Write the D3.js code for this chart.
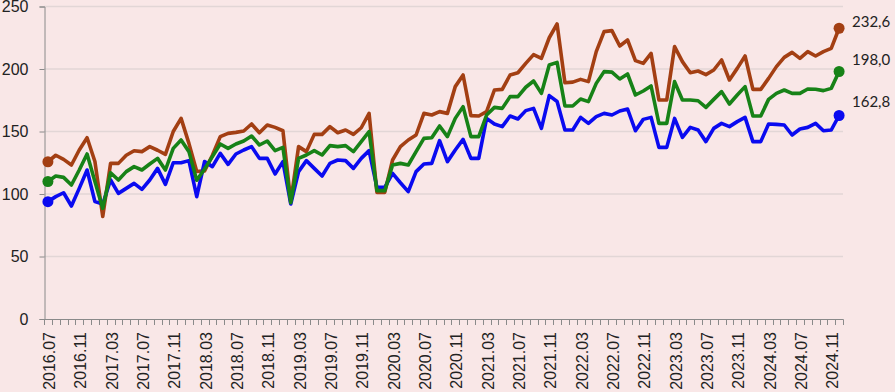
<!DOCTYPE html>
<html>
<head>
<meta charset="utf-8">
<script src="https://cdn.jsdelivr.net/npm/d3@7"></script>
<style>
body { margin: 0; background: #f9e7e7; }
svg { display: block; }
</style>
</head>
<body>
<svg id="chart"></svg>
<script>
// months, 2016.07 .. 2024.12
var months = [
    "2016.07","2016.08","2016.09","2016.10","2016.11","2016.12",
    "2017.01","2017.02","2017.03","2017.04","2017.05","2017.06","2017.07","2017.08","2017.09","2017.10","2017.11","2017.12",
    "2018.01","2018.02","2018.03","2018.04","2018.05","2018.06","2018.07","2018.08","2018.09","2018.10","2018.11","2018.12",
    "2019.01","2019.02","2019.03","2019.04","2019.05","2019.06","2019.07","2019.08","2019.09","2019.10","2019.11","2019.12",
    "2020.01","2020.02","2020.03","2020.04","2020.05","2020.06","2020.07","2020.08","2020.09","2020.10","2020.11","2020.12",
    "2021.01","2021.02","2021.03","2021.04","2021.05","2021.06","2021.07","2021.08","2021.09","2021.10","2021.11","2021.12",
    "2022.01","2022.02","2022.03","2022.04","2022.05","2022.06","2022.07","2022.08","2022.09","2022.10","2022.11","2022.12",
    "2023.01","2023.02","2023.03","2023.04","2023.05","2023.06","2023.07","2023.08","2023.09","2023.10","2023.11","2023.12",
    "2024.01","2024.02","2024.03","2024.04","2024.05","2024.06","2024.07","2024.08","2024.09","2024.10","2024.11","2024.12"
];
var tickLabels = ["2016.07","2016.11","2017.03","2017.07","2017.11","2018.03","2018.07","2018.11",
    "2019.03","2019.07","2019.11","2020.03","2020.07","2020.11","2021.03","2021.07","2021.11",
    "2022.03","2022.07","2022.11","2023.03","2023.07","2023.11","2024.03","2024.07","2024.11"];
var yTicks = [0, 50, 100, 150, 200, 250];

var brown = [
    125.8, 131, 127.7, 123.2, 135.2, 145, 126, 82, 124.5, 124.5,
    131, 134.6, 133.9, 137.9, 135, 131.7, 150, 160.5, 140.5, 118,
    118.5, 131, 145.9, 148.5, 149.3, 150.4, 156, 149, 155.2, 153.3,
    150.6, 94, 137.9, 133.9, 147.7, 147.7, 153.9, 149, 151.2, 147.7,
    153, 164.5, 101.3, 101.3, 127.2, 137.9, 143.2, 147.2, 164.5, 163.2,
    165.9, 164.5, 185.9, 195.2, 162.7, 162.4, 165.9, 183.2, 183.7, 195.2,
    197, 204.5, 211.5, 208.5, 225, 236, 189, 189.5, 191.7, 189.9,
    213.9, 229.9, 230.7, 218.4, 223.2, 206.7, 204.5, 212.5, 175.2, 175.2,
    217.9, 205.9, 197, 198.4, 195.5, 199.2, 207.2, 191.2, 200.5, 210.4,
    183.7, 183.7, 192.5, 201.9, 209.3, 213.3, 208.5, 213.9, 210.4, 213.9,
    216.5, 232.6
];
var green = [
    110, 114.4, 113.3, 107.2, 119.2, 132, 109.9, 88.5, 117, 111.2,
    117.9, 121.9, 119.2, 124, 128.5, 119.2, 136.5, 143.2, 133.9, 111,
    120, 129.9, 140, 136.5, 140, 142.4, 146.4, 139.2, 142.4, 134.7,
    137.3, 93, 128.5, 131.2, 134.7, 131.2, 138.7, 137.9, 138.7, 133.9,
    141.9, 149.9, 102.7, 102.7, 123.2, 124.5, 123.2, 133.9, 144.5, 145,
    154.4, 145.9, 160.5, 169.9, 145.9, 145.9, 163.2, 169.3, 168.5, 177.9,
    177.9, 185.4, 190.4, 180.5, 203.2, 205.3, 170.4, 170.4, 176, 173.9,
    188.5, 197.9, 197.5, 192, 196, 179.2, 182.4, 186.4, 156.5, 156.5,
    189.9, 175.2, 175.2, 174.6, 169.3, 175.7, 181.9, 172, 179.2, 185.9,
    162.4, 162.4, 175.7, 180.5, 183.2, 180.5, 180.5, 184, 183.8, 182.7,
    184.5, 198.0
];
var blue = [
    93.9, 97.9, 101, 90.4, 104.5, 119.2, 93.9, 92, 111.2, 100.5,
    104.5, 108.5, 103.7, 111.2, 120.5, 107.7, 125, 125, 126.7, 97.9,
    126, 121.9, 132.5, 123.7, 132, 135.2, 137.9, 128.5, 128.5, 116,
    125.9, 92, 117.9, 126.7, 120.5, 114.4, 124.5, 127.2, 126.7, 120.5,
    128.5, 134.7, 105.3, 105.3, 116.5, 109, 101.9, 117.9, 124, 124.5,
    142.7, 125.9, 135.2, 143.7, 128.5, 128.5, 160.5, 156, 153.9, 162.4,
    160, 166.7, 168.5, 152.5, 178.7, 174, 151.2, 151.2, 161.3, 156.5,
    161.9, 164.5, 163.2, 166.4, 168, 150.6, 159.7, 161.3, 137.3, 137.3,
    160.5, 145.3, 153.3, 151.2, 141.9, 152.5, 156.5, 153.9, 157.9, 161.3,
    141.9, 141.9, 156, 155.7, 155.2, 147.2, 152, 153.3, 156.5, 150.6,
    151.2, 162.8
];

var width = 895, height = 392;
var svg = d3.select("#chart").attr("width", width).attr("height", height);

svg.append("rect").attr("width", width).attr("height", height).attr("fill", "#f9e7e7");

var x = d3.scaleBand().domain(months).range([44, 843]).padding(0);
var y = d3.scaleLinear().domain([0, 250]).range([319, 6.5]);
var cx = function (m) { return x(m) + x.bandwidth() / 2; };

// gridlines
svg.append("g")
    .selectAll("line")
    .data(yTicks.filter(function (d) { return d > 0; }))
    .enter()
    .append("line")
    .attr("x1", 44).attr("x2", 843)
    .attr("y1", function (d) { return y(d); })
    .attr("y2", function (d) { return y(d); })
    .attr("stroke", "#e2d6d6")
    .attr("stroke-width", 1.5);

// y axis
var yAxis = svg.append("g")
    .attr("transform", "translate(44.5,0)")
    .call(d3.axisLeft(y).tickValues(yTicks).tickSize(5).tickPadding(11).tickFormat(d3.format("d")));
yAxis.select(".domain").attr("stroke", "#8a8a8a");
yAxis.selectAll(".tick line").attr("stroke", "#8a8a8a");
yAxis.selectAll("text")
    .style("font-family", "'Liberation Sans', Arial, sans-serif")
    .style("font-size", "16px")
    .attr("fill", "#222");

// x axis, ticks between months
var xg = svg.append("g");
xg.append("line")
    .attr("x1", 44).attr("x2", 843.5)
    .attr("y1", 319.5).attr("y2", 319.5)
    .attr("stroke", "#8a8a8a");
xg.selectAll("line.tk")
    .data(months.concat(["end"]))
    .enter()
    .append("line")
    .attr("class", "tk")
    .attr("x1", function (d, i) { return Math.round(44 + i * x.step()) + 0.5; })
    .attr("x2", function (d, i) { return Math.round(44 + i * x.step()) + 0.5; })
    .attr("y1", 319.5)
    .attr("y2", 325)
    .attr("stroke", "#8a8a8a");
xg.selectAll("text")
    .data(tickLabels)
    .enter()
    .append("text")
    .attr("transform", function (d) { return "translate(" + cx(d) + ",332) rotate(-90)"; })
    .attr("text-anchor", "end")
    .attr("dy", "0.45em")
    .style("font-family", "'Liberation Sans', Arial, sans-serif")
    .style("font-size", "16px")
    .attr("fill", "#222")
    .text(function (d) { return d; });

// lines
var series = [
    { name: "brown", values: brown, color: "#a33f13", labelDy: -6.5 },
    { name: "blue", values: blue, color: "#0a0af0", labelDy: -14 },
    { name: "green", values: green, color: "#178217", labelDy: -11.5 }
];
var line = d3.line()
    .x(function (d, i) { return cx(months[i]); })
    .y(function (d) { return y(d); });

series.forEach(function (s) {
    svg.append("path")
        .datum(s.values)
        .attr("fill", "none")
        .attr("stroke", s.color)
        .attr("stroke-width", 3.6)
        .attr("stroke-linejoin", "round")
        .attr("d", line);
    var last = s.values.length - 1;
    svg.append("g")
        .selectAll("circle")
        .data([0, last])
        .enter()
        .append("circle")
        .attr("cx", function (i) { return cx(months[i]); })
        .attr("cy", function (i) { return y(s.values[i]); })
        .attr("r", 5.5)
        .attr("fill", s.color);
    svg.append("text")
        .attr("x", 852)
        .attr("y", y(s.values[last]) + s.labelDy)
        .attr("dy", "0.35em")
        .style("font-family", "Lato, 'Open Sans', sans-serif")
        .style("font-size", "15px")
        .attr("fill", "#222")
        .text(d3.format(".1f")(s.values[last]).replace(".", ","));
});
</script>
</body>
</html>
